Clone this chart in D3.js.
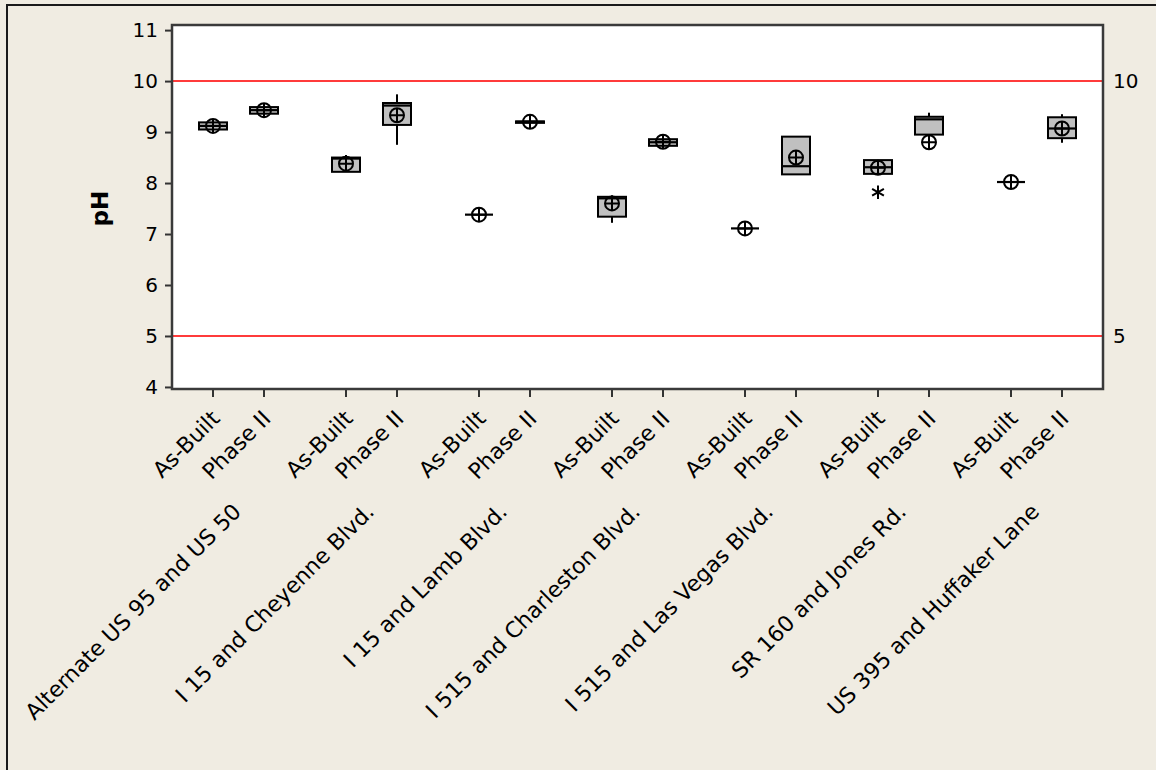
<!DOCTYPE html>
<html>
<head>
<meta charset="utf-8">
<script src="https://cdn.jsdelivr.net/npm/d3@7"></script>
<style>
    body { margin: 0; background: #f0ece2; }
    svg text { font-family: "DejaVu Sans", Verdana, sans-serif; fill: #000; }
</style>
</head>
<body>
<div id="chart"></div>
<script>

// sites (outer categories) and sampling phase (inner categories)
const groups = ["Alternate US 95 and US 50", "I 15 and Cheyenne Blvd.", "I 15 and Lamb Blvd.",
    "I 515 and Charleston Blvd.", "I 515 and Las Vegas Blvd.", "SR 160 and Jones Rd.", "US 395 and Huffaker Lane"];
const phases = ["As-Built", "Phase II"];

// box stats, one entry per site/phase (site order, As-Built then Phase II)
const whiskerLow  = [9.05, 9.36, 8.22, 8.75, 7.38, 9.18, 7.22, 8.72, 7.11, 8.17, 8.18, 8.95, 8.02, 8.79];
const quart1      = [9.05, 9.36, 8.22, 9.14, 7.38, 9.18, 7.34, 8.73, 7.11, 8.17, 8.18, 8.95, 8.02, 8.88];
const medians     = [9.12, 9.43, 8.48, 9.52, 7.38, 9.20, 7.70, 8.80, 7.11, 8.33, 8.31, 9.25, 8.02, 9.07];
const quart3      = [9.19, 9.49, 8.50, 9.57, 7.38, 9.21, 7.73, 8.86, 7.11, 8.91, 8.45, 9.30, 8.02, 9.29];
const whiskerHigh = [9.20, 9.50, 8.55, 9.74, 7.38, 9.21, 7.76, 8.87, 7.11, 8.91, 8.45, 9.38, 8.02, 9.35];
const means       = [9.12, 9.43, 8.38, 9.33, 7.38, 9.20, 7.60, 8.81, 7.11, 8.50, 8.30, 8.80, 8.02, 9.07];

// outliers: index of box, value
const outlierBox = [10];
const outlierValue = [7.82];

const refLines = [5, 10];
const yTicks = [4, 5, 6, 7, 8, 9, 10, 11];

let W = 1156, H = 770;
let margin = {top: 25, right: 53, bottom: 381, left: 172};
let width = W - margin.left - margin.right;
let height = H - margin.top - margin.bottom;

let svg = d3.select("#chart").append("svg")
    .attr("width", W)
    .attr("height", H);

// window frame
svg.append("rect").attr("width", W).attr("height", H).attr("fill", "#f0ece2");
svg.append("path")
    .attr("d", "M7,770 V5 H1156")
    .attr("fill", "none")
    .attr("stroke", "#1a1a1a")
    .attr("stroke-width", 2);

let g = svg.append("g").attr("transform", "translate(" + margin.left + "," + margin.top + ")");

// scales
let x0 = d3.scaleBand().domain(groups).range([0, width]).padding(0);
let x1 = d3.scalePoint().domain(phases).range([0, x0.bandwidth()]).padding(0.804);
let y = d3.scaleLinear().domain([3.96, 11.1]).range([height, 0]);

// build rows
let rows = d3.range(groups.length * phases.length).map(function(i) {
    return {
        group: groups[Math.floor(i / 2)],
        phase: phases[i % 2],
        lo: whiskerLow[i], q1: quart1[i], med: medians[i], q3: quart3[i], hi: whiskerHigh[i], mean: means[i]
    };
});
let xPos = function(d) { return x0(d.group) + x1(d.phase); };

// plot area
g.append("rect")
    .attr("width", width)
    .attr("height", height)
    .attr("fill", "white");

// reference lines
g.selectAll(".ref").data(refLines).enter().append("line")
    .attr("class", "ref")
    .attr("x1", 0).attr("x2", width)
    .attr("y1", d => y(d)).attr("y2", d => y(d))
    .attr("stroke", "#ff3b3b")
    .attr("stroke-width", 2);

g.selectAll(".refLabel").data(refLines).enter().append("text")
    .attr("class", "refLabel")
    .attr("x", width + 10)
    .attr("y", d => y(d))
    .attr("dy", "0.36em")
    .style("font-size", "20px")
    .text(d => d);

// y axis
let yAxis = g.append("g")
    .call(d3.axisLeft(y).tickValues(yTicks).tickSize(7).tickPadding(7).tickFormat(d3.format("d")));
yAxis.select(".domain").remove();
yAxis.selectAll("line").attr("stroke", "#333").attr("stroke-width", 2);
yAxis.selectAll("text").style("font-size", "20px").attr("fill", "#000");

// x ticks
let xt = g.append("g").attr("transform", "translate(0," + height + ")");
xt.selectAll("line").data(rows).enter().append("line")
    .attr("x1", xPos).attr("x2", xPos)
    .attr("y1", 0).attr("y2", 8)
    .attr("stroke", "#333").attr("stroke-width", 2);

xt.selectAll(".phaseLabel").data(rows).enter().append("text")
    .attr("class", "phaseLabel")
    .attr("text-anchor", "end")
    .attr("transform", d => "translate(" + (xPos(d) + 8) + ",31) rotate(-45)")
    .style("font-size", "22px")
    .text(d => d.phase);

xt.selectAll(".groupLabel").data(groups).enter().append("text")
    .attr("class", "groupLabel")
    .attr("text-anchor", "end")
    .attr("transform", d => "translate(" + (x0(d) + x0.bandwidth() / 2 + 4) + ",124) rotate(-45)")
    .style("font-size", "22px")
    .text(d => d);

// boxes
let boxW = 28;
let boxes = g.selectAll(".box").data(rows).enter().append("g").attr("class", "box");

boxes.append("line")
    .attr("x1", xPos).attr("x2", xPos)
    .attr("y1", d => y(d.hi)).attr("y2", d => y(d.q3))
    .attr("stroke", "black").attr("stroke-width", 2);
boxes.append("line")
    .attr("x1", xPos).attr("x2", xPos)
    .attr("y1", d => y(d.q1)).attr("y2", d => y(d.lo))
    .attr("stroke", "black").attr("stroke-width", 2);

boxes.append("rect")
    .attr("x", d => xPos(d) - boxW / 2)
    .attr("y", d => y(d.q3))
    .attr("width", boxW)
    .attr("height", d => y(d.q1) - y(d.q3))
    .attr("fill", "#c0c0c0")
    .attr("stroke", "black")
    .attr("stroke-width", 2);

boxes.append("line")
    .attr("x1", d => xPos(d) - boxW / 2).attr("x2", d => xPos(d) + boxW / 2)
    .attr("y1", d => y(d.med)).attr("y2", d => y(d.med))
    .attr("stroke", "black").attr("stroke-width", 2.2);

// mean symbol: circle with cross
let r = 7;
boxes.append("circle")
    .attr("cx", xPos).attr("cy", d => y(d.mean))
    .attr("r", r)
    .attr("fill", "none")
    .attr("stroke", "black").attr("stroke-width", 2);
boxes.append("path")
    .attr("d", d => {
        let cx = xPos(d), cy = y(d.mean);
        return "M" + (cx - r) + "," + cy + "H" + (cx + r) + "M" + cx + "," + (cy - r) + "V" + (cy + r);
    })
    .attr("stroke", "black").attr("stroke-width", 2);

// outliers
g.selectAll(".outlier").data(outlierBox).enter().append("path")
    .attr("class", "outlier")
    .attr("transform", (d, i) => "translate(" + xPos(rows[d]) + "," + y(outlierValue[i]) + ")")
    .attr("d", d3.symbol(d3.symbolAsterisk, 130))
    .attr("fill", "none")
    .attr("stroke", "black")
    .attr("stroke-width", 2);

// plot border
g.append("rect")
    .attr("width", width)
    .attr("height", height)
    .attr("fill", "none")
    .attr("stroke", "#3a3a3a")
    .attr("stroke-width", 2.5);

// y title
g.append("text")
    .attr("transform", "translate(-64," + (y(7.5)) + ") rotate(-90)")
    .attr("text-anchor", "middle")
    .style("font-size", "23px")
    .style("font-weight", "bold")
    .text("pH");

</script>
</body>
</html>
